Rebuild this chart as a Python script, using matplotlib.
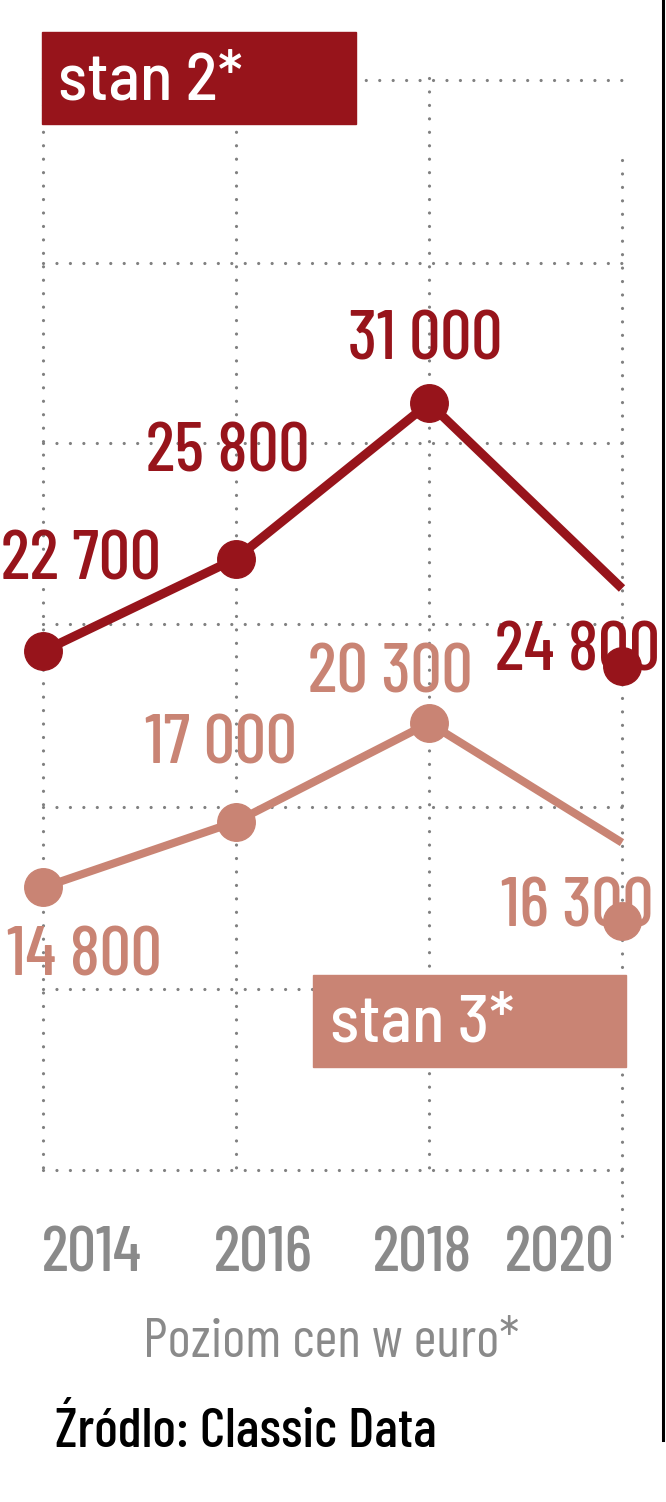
import matplotlib
matplotlib.use('Agg')
import matplotlib.pyplot as plt
from matplotlib.patches import Rectangle
from matplotlib.lines import Line2D
from matplotlib.transforms import offset_copy

# Data
years = [2014, 2016, 2018, 2020]
stan2 = [22700, 25800, 31000, 24800]
stan3 = [14800, 17000, 20300, 16300]
labels2 = ['22 700', '25 800', '31 000', '24 800']
labels3 = ['14 800', '17 000', '20 300', '16 300']
year_labels = ['2014', '2016', '2018', '2020']
grid_vals = [5350, 11400, 17500, 23600, 29650, 35700, 41800]

c2 = '#97141b'
c3 = '#c98474'
grey = '#8a8a8a'

narrow = ['Barlow Condensed', 'DejaVu Sans']
semi = ['Barlow Semi Condensed', 'DejaVu Sans']
plt.rcParams['font.family'] = narrow

W, H = 666, 1502

def px_x(px):
    return 2014 + (px - 43) / 96.5

def px_y(py):
    return (1330 - py) / 0.0299

def fx(px):
    return px / W

def fy(py):
    return 1 - py / H

fig = plt.figure(figsize=(W / 100, H / 100), dpi=100)
ax = fig.add_axes([0, 0, 1, 1])
ax.set_xlim(px_x(0), px_x(W))
ax.set_ylim(px_y(H), px_y(0))
ax.axis('off')

# dotted grid
dot = dict(color='#808080', lw=2.3, linestyle=(0, (0.01, 4.2)),
           dash_capstyle='round', zorder=1)
for g in grid_vals:
    ax.plot([2014, 2020], [g, g], **dot)
for yr in years:
    top, bot = (160, 1244) if yr == 2020 else (78, 1168)
    ax.plot([yr, yr], [px_y(top), px_y(bot)], **dot)

# lines + dots (last dot sits lower in the original)
shift = offset_copy(ax.transData, fig=fig, y=-78, units='dots')
for vals, col, lw in [(stan2, c2, 6.5), (stan3, c3, 5.8)]:
    ax.plot(years, vals, color=col, lw=lw, solid_capstyle='butt', zorder=3)
    ax.plot(years[:3], vals[:3], 'o', ms=27, color=col, zorder=4)
    ax.plot(years[3:], vals[3:], 'o', ms=27, color=col, zorder=4,
            transform=shift)

# value labels (offsets in pixels from each point)
off2 = [(38, 72), (-8, 87), (-4, 44), (-45, -82)]
off3 = [(41, -88), (-15, 58), (-39, 31), (-45, -84)]
for vals, labs, offs, col in [(stan2, labels2, off2, c2),
                              (stan3, labels3, off3, c3)]:
    for x, v, lab, (dx, dy) in zip(years, vals, labs, offs):
        ax.annotate(lab, (x, v), xytext=(dx, dy), textcoords='offset pixels',
                    ha='center', va='baseline', fontsize=50,
                    fontweight=500, color=col, zorder=5)

# legend boxes
fig.add_artist(Rectangle((fx(42), fy(124)), 314 / W, 92 / H,
                         transform=fig.transFigure, color=c2, zorder=5))
fig.text(fx(58), fy(100), 'stan 2*', color='white', fontsize=48,
         family=semi, fontweight=500, va='baseline', ha='left', zorder=6)
fig.add_artist(Rectangle((fx(313), fy(1067)), 313 / W, 92 / H,
                         transform=fig.transFigure, color=c3, zorder=5))
fig.text(fx(330), fy(1042), 'stan 3*', color='white', fontsize=48,
         family=semi, fontweight=500, va='baseline', ha='left', zorder=6)

# year labels
for lab, cx in zip(year_labels, [92, 263, 423, 560]):
    fig.text(fx(cx), fy(1271), lab, color=grey, fontsize=46,
             fontweight=500, ha='center', va='baseline')

fig.text(fx(331), fy(1357), 'Poziom cen w euro*', color=grey, fontsize=40,
         ha='center', va='baseline')
fig.text(fx(55), fy(1447), 'Źródlo: Classic Data', color='black',
         fontsize=40, fontweight=500, ha='left', va='baseline')

# black edge on the right
fig.add_artist(Line2D([fx(663), fx(663)], [fy(0), fy(1440)],
                      transform=fig.transFigure, color='black', lw=2.2))

fig.savefig('out.png', dpi=100)
